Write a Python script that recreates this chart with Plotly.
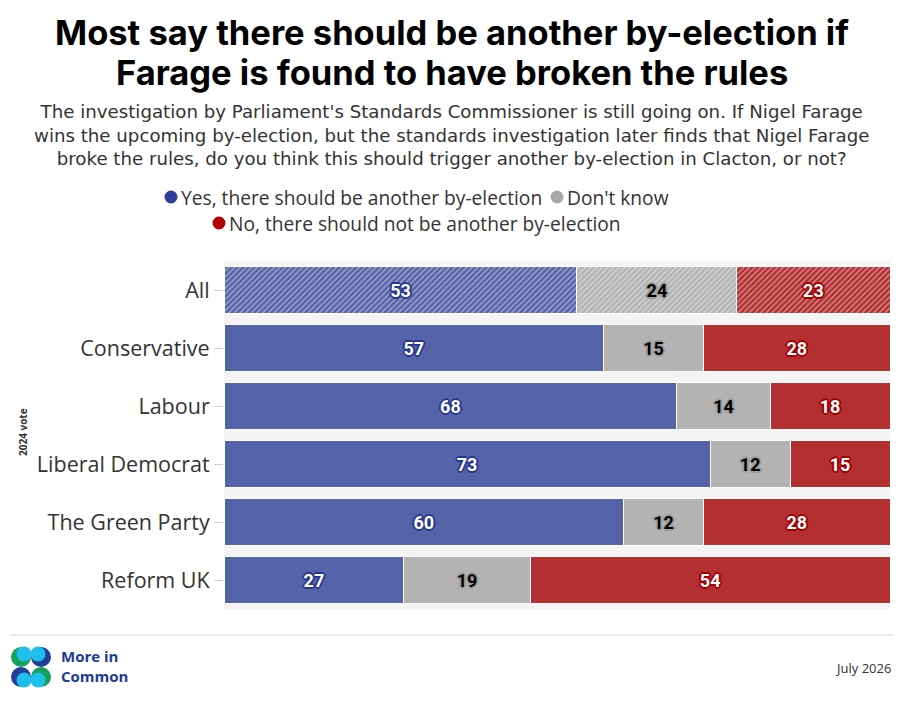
import plotly.graph_objects as go

groups = ["All", "Conservative", "Labour", "Liberal Democrat", "The Green Party", "Reform UK"]
yes_vals = [53, 57, 68, 73, 60, 27]
dk_vals = [24, 15, 14, 12, 12, 19]
no_vals = [23, 28, 18, 15, 28, 54]

names = ["Yes, there should be another by-election", "Don't know",
         "No, there should not be another by-election"]
bar_colors = ["#5563a8", "#b3b3b3", "#b32f31"]
legend_colors = ["#2f3d96", "#a8a8a8", "#b00000"]
label_colors = ["white", "black", "white"]
outline_colors = ["#26368e", "#9e9e9e", "#a00000"]

title_lines = ["Most say there should be another by-election if",
               "Farage is found to have broken the rules"]
subtitle_lines = [
    "The investigation by Parliament's Standards Commissioner is still going on. If Nigel Farage",
    "wins the upcoming by-election, but the standards investigation later finds that Nigel Farage",
    "broke the rules, do you think this should trigger another by-election in Clacton, or not?",
]

# page is shown with an 8px body margin, so the figure is 8px smaller
OFF = 8
PAGE_W, PAGE_H = 904, 702
W, H = PAGE_W - OFF, PAGE_H - OFF
# plot area in page pixels
L, R, T, B = 224, 890, 261, 609
FONT = "Open Sans"


def px_x(p):
    return (p - L) / (R - L)


def px_y(p):
    return (B - p) / (B - T)


def outline(c):
    offs = [(-2, 0), (2, 0), (0, -2), (0, 2), (-1, -1), (1, -1), (-1, 1), (1, 1)]
    return ", ".join(f"{dx}px {dy}px 0 {c}" for dx, dy in offs)


def dot_shape(cx, cy, r, color):
    return dict(type="circle", xref="paper", yref="paper", xsizemode="pixel", ysizemode="pixel",
                xanchor=px_x(cx), yanchor=px_y(cy), x0=-r, x1=r, y0=-r, y1=r,
                fillcolor=color, line=dict(width=0))


fig = go.Figure()
for name, vals, col, tcol, shcol in zip(names, [yes_vals, dk_vals, no_vals],
                                        bar_colors, label_colors, outline_colors):
    fig.add_trace(go.Bar(
        y=groups, x=vals, orientation="h", name=name,
        text=vals, textposition="inside", insidetextanchor="middle",
        textfont=dict(family="Roboto", size=18, color=tcol, weight="bold", shadow=outline(shcol)),
        marker=dict(color=col, line=dict(color="white", width=1),
                    pattern=dict(shape=["/"] + [""] * (len(groups) - 1),
                                 fgcolor="white", size=4, solidity=0.3)),
        hoverinfo="skip",
    ))

fig.update_layout(
    width=W, height=H,
    barmode="stack", bargap=0.2,
    paper_bgcolor="white", plot_bgcolor="#f4f4f4",
    margin=dict(l=L - OFF, r=PAGE_W - R, t=T - OFF, b=PAGE_H - B, autoexpand=False),
    font=dict(family=FONT, color="#333333"),
    showlegend=False,
    xaxis=dict(range=[0, 100], visible=False, fixedrange=True),
    yaxis=dict(
        categoryorder="array", categoryarray=groups, autorange="reversed",
        ticks="outside", ticklen=9, tickcolor="#d0d0d0", showline=False,
        showgrid=False, tickfont=dict(size=21.5, color="#333333"), automargin=False,
    ),
)

for line, ly in zip(title_lines, [32, 72]):
    fig.add_annotation(
        text=line, xref="paper", yref="paper", x=px_x(452), y=px_y(ly),
        xanchor="center", yanchor="middle", showarrow=False,
        font=dict(family="Inter", size=34.5, color="black", weight="bold"),
    )

fig.add_annotation(
    text="<br>".join(subtitle_lines), xref="paper", yref="paper", x=px_x(451), y=px_y(135),
    xanchor="center", yanchor="middle", showarrow=False, borderpad=0, align="center",
    font=dict(family="DejaVu Sans", size=18.2, color="#333333"),
)

# legend: dots as shapes, labels as text
legend_items = [(171, 197, 0), (557, 197, 1), (219, 223, 2)]
for cx, cy, i in legend_items:
    fig.add_shape(**dot_shape(cx, cy, 6.5, legend_colors[i]))
    fig.add_annotation(
        text=names[i], xref="paper", yref="paper", x=px_x(cx + 9), y=px_y(cy),
        xanchor="left", yanchor="middle", showarrow=False, borderpad=0,
        font=dict(size=19.2, color="#333333"),
    )

fig.add_annotation(
    text="2024 vote", textangle=-90, xref="paper", yref="paper",
    x=px_x(23), y=px_y(432), xanchor="center", yanchor="middle", showarrow=False,
    font=dict(size=10, color="#333333", weight="bold"),
)

fig.add_annotation(
    text="July 2026", xref="paper", yref="paper", x=px_x(893), y=px_y(668),
    xanchor="right", yanchor="middle", showarrow=False, font=dict(size=13, color="#333333"),
)
fig.add_annotation(
    text="<b>More in<br>Common</b>", xref="paper", yref="paper", x=px_x(60), y=px_y(666),
    xanchor="left", yanchor="middle", showarrow=False, borderpad=0, align="left",
    font=dict(family="Open Sans", size=15, color="#1d3a94"),
)

# footer rule
fig.add_shape(type="line", xref="paper", yref="paper",
              x0=px_x(10), x1=px_x(893), y0=px_y(635), y1=px_y(635),
              line=dict(color="#d6d6d6", width=1))

# logo: four overlapping circles
logo = [(21, 657, "#16a05a"), (41, 657, "#233f97"), (21, 677, "#233f97"), (41, 677, "#16a05a")]
for cx, cy, c in logo:
    fig.add_shape(**dot_shape(cx, cy, 10, c))
    dx = 3 if cx < 31 else -3
    dy = -3 if cy < 667 else 3
    fig.add_shape(**dot_shape(cx + dx, cy + dy, 7.5, "#1fbfec"))

fig.write_html("out.html")
